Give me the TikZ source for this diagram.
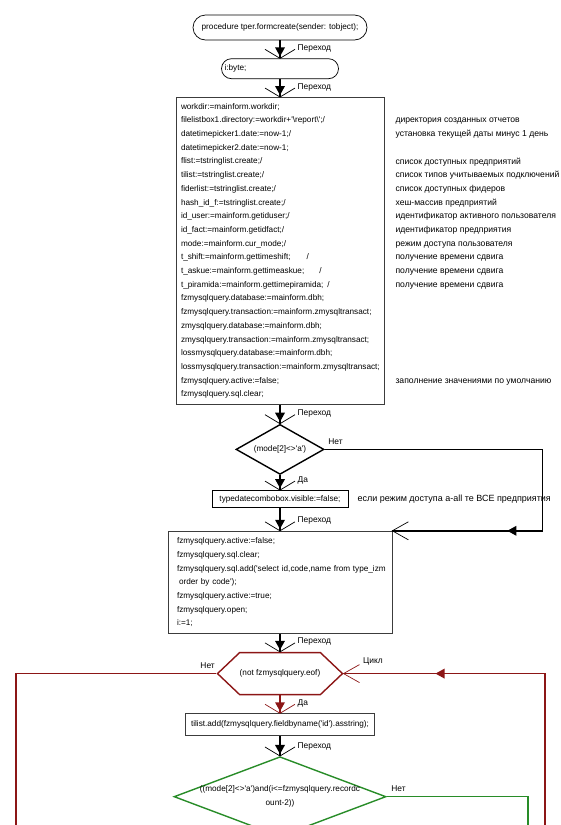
\documentclass[tikz,border=0pt]{standalone}
\usepackage{fontspec}
\setmainfont{Liberation Sans}[Ligatures=TeXOff]
\usetikzlibrary{shapes.geometric,shapes.symbols,decorations.markings,positioning}
\definecolor{frameColor}{RGB}{60,60,60}
\definecolor{loopColor}{RGB}{140,22,22}
\definecolor{branchColor}{RGB}{40,140,40}
\newcommand{\codetext}{\fontsize{8.2}{13.7}\selectfont}
\newcommand{\notetext}{\fontsize{8.6}{13.7}\selectfont}
\newcommand{\lbltext}{\fontsize{8.4}{10}\selectfont}
\tikzset{terminal/.style={draw, line width=0.7pt, rounded corners=#1, font=\codetext, inner sep=0pt}}
\tikzset{block/.style={draw=frameColor, line width=0.7pt, font=\codetext, align=left, inner xsep=5pt}}
\tikzset{decision/.style={diamond, draw, line width=1.4pt, inner sep=0pt, font=\codetext}}
\tikzset{loophead/.style={signal, signal to=west and east, signal pointer angle=87, draw=loopColor, line width=1.4pt, inner sep=0pt, font=\codetext}}
\tikzset{note/.style={font=\notetext, align=left, inner sep=0pt}}
\tikzset{lbl/.style={font=\lbltext, inner sep=0pt, text=black}}
\tikzset{flowline/.style={line width=1.4pt}}
\tikzset{entry/.style={postaction={decorate, decoration={markings,
  mark=at position -2pt with {\fill (0pt,0pt) -- (-9pt,5pt) -- (-9pt,-5pt) -- cycle;},
  mark=at position 1 with {\draw[line width=0.7pt] (-9pt,15pt) -- (0pt,0pt) -- (-9pt,-15pt);}}}}}
\tikzset{sidein/.style={postaction={decorate, decoration={markings,
  mark=at position #1 with {\fill (0pt,0pt) -- (-9pt,5pt) -- (-9pt,-5pt) -- cycle;},
  mark=at position 1 with {\draw[line width=0.7pt] (-16pt,9pt) -- (0pt,0pt) -- (-16pt,-9pt);}}}}}

\begin{document}
\begin{tikzpicture}[x=1pt, y=1pt]
\useasboundingbox (0,0) rectangle (560,-825);
% Nodes
\node (start) [terminal=12.5pt, minimum width=174pt, minimum height=25pt] at (280,-27.5) {procedure tper.formcreate(sender: tobject);};
\node (vars) [terminal=10pt, below=18pt of start, minimum width=117pt, minimum height=20pt, text width=111pt, align=left, inner xsep=3pt] {i:byte;};

\node (setup) [block, below=18pt of vars, text width=198pt, inner ysep=5.8pt] {workdir:=mainform.workdir;\\
filelistbox1.directory:=workdir+'\textbackslash report\textbackslash';/\\
datetimepicker1.date:=now-1;/\\
datetimepicker2.date:=now-1;\\
flist:=tstringlist.create;/\\
tilist:=tstringlist.create;/\\
fiderlist:=tstringlist.create;/\\
hash\_id\_f:=tstringlist.create;/\\
id\_user:=mainform.getiduser;/\\
id\_fact:=mainform.getidfact;/\\
mode:=mainform.cur\_mode;/\\
t\_shift:=mainform.gettimeshift;\hspace{16pt}/\\
t\_askue:=mainform.gettimeaskue;\hspace{15pt}/\\
t\_piramida:=mainform.gettimepiramida;\hspace{4pt}/\\
fzmysqlquery.database:=mainform.dbh;\\
fzmysqlquery.transaction:=mainform.zmysqltransact;\\
zmysqlquery.database:=mainform.dbh;\\
zmysqlquery.transaction:=mainform.zmysqltransact;\\
lossmysqlquery.database:=mainform.dbh;\\
lossmysqlquery.transaction:=mainform.zmysqltransact;\\
fzmysqlquery.active:=false;\\
fzmysqlquery.sql.clear;};

\node (setupnotes) [note, anchor=north west] at ([xshift=11pt, yshift=-5.8pt]setup.north east) {\vphantom{workdir}\\
директория созданных отчетов\\
установка текущей даты минус 1 день\\
\mbox{}\\
список доступных предприятий\\
список типов учитываемых подключений\\
список доступных фидеров\\
хеш-массив предприятий\\
идентификатор активного пользователя\\
идентификатор предприятия\\
режим доступа пользователя\\
получение времени сдвига\\
получение времени сдвига\\
получение времени сдвига\\
\mbox{}\\ \mbox{}\\ \mbox{}\\ \mbox{}\\ \mbox{}\\ \mbox{}\\
заполнение значениями по умолчанию};

\node (choice) [decision, aspect=1.76, below=19pt of setup, minimum width=88pt, minimum height=50pt] {(mode[2]<>'a')};
\node (visible) [block, draw=black, below=15pt of choice, minimum width=136pt, minimum height=17pt, inner ysep=0pt] {typedatecombobox.visible:=false;};
\node (visiblenote) [note, font=\fontsize{9}{11}\selectfont, right=9pt of visible] {если режим доступа a-all те ВСЕ предприятия};

\node (query) [block, below=23pt of visible, text width=206pt, inner xsep=9pt, inner ysep=6.6pt] {fzmysqlquery.active:=false;\\
fzmysqlquery.sql.clear;\\
\mbox{fzmysqlquery.sql.add('select id,code,name from type\_izm}\\
\hspace{2pt}order by code');\\
fzmysqlquery.active:=true;\\
fzmysqlquery.open;\\
i:=1;};

\node (eofcheck) [loophead, below=18pt of query, minimum width=125pt, minimum height=42pt] {(not fzmysqlquery.eof)};
\node (addid) [block, below=18pt of eofcheck, minimum width=189pt, minimum height=22pt, inner ysep=0pt] {tilist.add(fzmysqlquery.fieldbyname('id').asstring);};
\node (check) [decision, draw=branchColor, below=20pt of addid, minimum width=212pt, minimum height=80pt, label={[font=\codetext, align=center]center:{((mode[2]<>'a')and(i<=fzmysqlquery.recordc\\ount-2))}}] {};

\coordinate (leftfoot) at (16,-840);
\coordinate (cyclefoot) at (545,-840);
\coordinate (greenfoot) at (528,-840);

% Connectors
\draw [flowline, entry] (start.south) -- node[lbl, at end, anchor=west, xshift=17pt, yshift=10pt] {Переход} (vars.north);
\draw [flowline, entry] (vars.south) -- node[lbl, at end, anchor=west, xshift=17pt, yshift=10pt] {Переход} (setup.north);
\draw [flowline, entry] (setup.south) -- node[lbl, at end, anchor=west, xshift=17pt, yshift=10pt] {Переход} (choice.north);
\draw [flowline, entry] (choice.south) -- node[lbl, at end, anchor=west, xshift=17pt, yshift=10pt] {Да} (visible.north);
\draw [flowline, entry] (visible.south) -- node[lbl, at end, anchor=west, xshift=17pt, yshift=10pt] {Переход} (query.north);
\draw [flowline, sidein=-115pt] (choice.east) -- node[lbl, pos=0, anchor=south west, xshift=3pt, yshift=4pt] {Нет} ++(218,0) |- (query.north east);

\draw [flowline, entry] (query.south) -- node[lbl, at end, anchor=west, xshift=17pt, yshift=10pt] {Переход} (eofcheck.north);
\draw [flowline, entry, color=loopColor] (eofcheck.south) -- node[lbl, at end, anchor=west, xshift=17pt, yshift=10pt] {Да} (addid.north);
\draw [flowline, entry] (addid.south) -- node[lbl, at end, anchor=west, xshift=17pt, yshift=10pt] {Переход} (check.north);

\draw [flowline, color=loopColor] (eofcheck.west) -- node[lbl, pos=0, anchor=south east, xshift=-1pt, yshift=4pt] {Нет} (eofcheck.west -| leftfoot) -- (leftfoot);
\draw [flowline, sidein=-92pt, color=loopColor] (cyclefoot) |- node[lbl, at end, anchor=west, xshift=19pt, yshift=12pt] {Цикл} (eofcheck.east);
\draw [flowline, color=branchColor] (check.east) -- node[lbl, pos=0, anchor=south west, xshift=4pt, yshift=4pt] {Нет} (check.east -| greenfoot) -- (greenfoot);

\end{tikzpicture}
\end{document}
